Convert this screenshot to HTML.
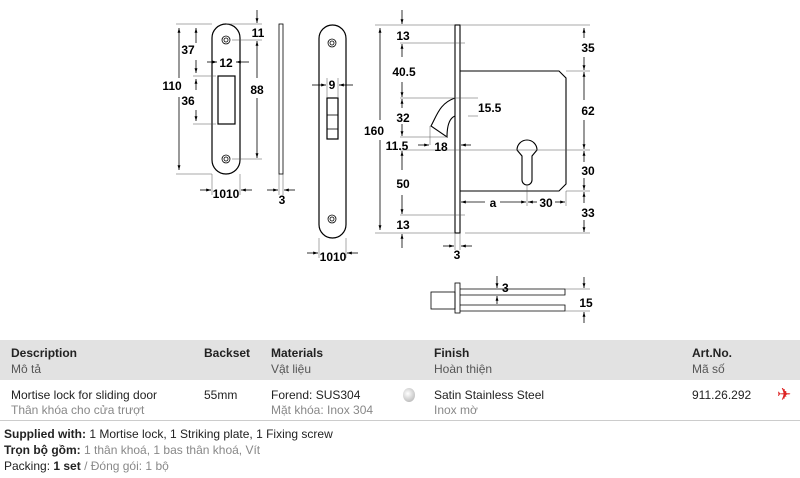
<!DOCTYPE html>
<html><head><meta charset="utf-8"><style>
body{margin:0;width:800px;height:478px;background:#fff;font-family:"Liberation Sans",sans-serif;overflow:hidden;position:relative}
svg{position:absolute;left:0;top:0}
.t{position:absolute;font-size:12px;color:#222;white-space:nowrap}
.g{color:#888}
.b{font-weight:bold}
</style></head><body>
<svg width="800" height="340" viewBox="0 0 800 340" font-family="Liberation Sans" font-weight="bold" font-size="12" fill="none" stroke="#000" stroke-width="0.8">
<defs><marker id="a" viewBox="0 0 10 10" refX="10" refY="5" markerWidth="6" markerHeight="6" orient="auto-start-reverse"><path d="M0,2L10,5L0,8z" fill="#000" stroke="none"/></marker></defs>
<!-- strike plate -->
<rect x="212" y="24" width="28" height="150" rx="14" stroke-width="1.2"/>
<circle cx="226" cy="40" r="4"/><circle cx="226" cy="40" r="2"/>
<circle cx="226" cy="159" r="4"/><circle cx="226" cy="159" r="2"/>
<rect x="218" y="76" width="17" height="48" stroke-width="1.2"/>
<g stroke-width="0.5" stroke="#555">
<line x1="176" y1="24" x2="212" y2="24"/><line x1="176" y1="174" x2="212" y2="174"/>
<line x1="193" y1="76" x2="216" y2="76"/><line x1="193" y1="124" x2="216" y2="124"/>
<line x1="226" y1="24" x2="262" y2="24"/><line x1="232" y1="40" x2="262" y2="40"/><line x1="232" y1="159" x2="262" y2="159"/>
<line x1="212" y1="174" x2="212" y2="195"/><line x1="240" y1="174" x2="240" y2="195"/>
<line x1="279" y1="174" x2="279" y2="195"/><line x1="283" y1="174" x2="283" y2="195"/>
</g>
<line x1="179" y1="28" x2="179" y2="78" marker-start="url(#a)"/><line x1="179" y1="97" x2="179" y2="170" marker-end="url(#a)"/>
<line x1="196" y1="28" x2="196" y2="43" marker-start="url(#a)"/><line x1="196" y1="60" x2="196" y2="73" marker-end="url(#a)"/>
<line x1="196" y1="79" x2="196" y2="90" marker-start="url(#a)"/><line x1="196" y1="110" x2="196" y2="121" marker-end="url(#a)"/>
<line x1="207" y1="62" x2="217" y2="62" marker-end="url(#a)"/><line x1="249" y1="62" x2="236" y2="62" marker-end="url(#a)"/>
<line x1="257" y1="10" x2="257" y2="23" marker-end="url(#a)"/><line x1="257" y1="41" x2="257" y2="78" marker-start="url(#a)"/><line x1="257" y1="98" x2="257" y2="158" marker-end="url(#a)"/>
<line x1="200" y1="190" x2="211" y2="190" marker-end="url(#a)"/><line x1="252" y1="190" x2="241" y2="190" marker-end="url(#a)"/>
<line x1="267" y1="190" x2="278" y2="190" marker-end="url(#a)"/><line x1="295" y1="190" x2="284" y2="190" marker-end="url(#a)"/>
<rect x="279" y="24" width="4" height="150"/>
<g fill="#000" stroke="none">
<text x="188" y="54" text-anchor="middle">37</text><text x="188" y="105" text-anchor="middle">36</text><text x="172" y="90" text-anchor="middle">110</text>
<text x="226" y="67" text-anchor="middle">12</text><text x="258" y="37" text-anchor="middle">11</text><text x="257" y="94" text-anchor="middle">88</text>
<text x="226" y="198" text-anchor="middle">1010</text><text x="282" y="204" text-anchor="middle">3</text>
</g>
<!-- forend -->
<rect x="319" y="25" width="27" height="213" rx="13.5" stroke-width="1.2"/>
<circle cx="332" cy="43" r="4"/><circle cx="332" cy="43" r="2"/>
<circle cx="332" cy="219" r="4"/><circle cx="332" cy="219" r="2"/>
<rect x="327" y="98" width="11" height="41" stroke-width="1.2"/>
<line x1="327" y1="115" x2="338" y2="115"/><line x1="327" y1="129" x2="338" y2="129"/>
<line x1="312" y1="85" x2="326" y2="85" marker-end="url(#a)"/><line x1="353" y1="85" x2="339" y2="85" marker-end="url(#a)"/>
<g stroke-width="0.5" stroke="#555"><line x1="327" y1="78" x2="327" y2="98"/><line x1="338" y1="78" x2="338" y2="98"/><line x1="319" y1="238" x2="319" y2="258"/><line x1="346" y1="238" x2="346" y2="258"/></g>
<line x1="307" y1="253" x2="318" y2="253" marker-end="url(#a)"/><line x1="358" y1="253" x2="347" y2="253" marker-end="url(#a)"/>
<g fill="#000" stroke="none"><text x="332" y="89" text-anchor="middle">9</text><text x="333" y="261" text-anchor="middle">1010</text></g>
<!-- lock side -->
<rect x="455" y="25" width="5" height="208" stroke-width="1.1"/>
<path d="M460,71H559L566,78V184L559,191H460" stroke-width="1.1"/>
<path d="M517,150a10,10 0 1 1 20,0l-5,6v24a5,5 0 0 1 -10,0v-24z" stroke-width="1.1"/>
<path d="M455,98C440,103 437,115 431,126L447,137C447,125 450,118 455,116" stroke-width="1.1"/>
<g stroke-width="0.5" stroke="#555">
<line x1="375" y1="25" x2="455" y2="25"/><line x1="375" y1="233" x2="455" y2="233"/>
<line x1="400" y1="43" x2="465" y2="43"/><line x1="400" y1="98" x2="478" y2="98"/><line x1="468" y1="116" x2="478" y2="116"/>
<line x1="400" y1="137" x2="447" y2="137"/><line x1="400" y1="150" x2="590" y2="150"/><line x1="400" y1="215" x2="465" y2="215"/>
<line x1="460" y1="25" x2="590" y2="25"/><line x1="566" y1="71" x2="590" y2="71"/><line x1="566" y1="191" x2="590" y2="191"/><line x1="465" y1="233" x2="590" y2="233"/>
<line x1="527" y1="185" x2="527" y2="206"/><line x1="566" y1="191" x2="566" y2="206"/><line x1="460" y1="233" x2="460" y2="250"/><line x1="455" y1="233" x2="455" y2="250"/>
<line x1="430" y1="126" x2="430" y2="145"/>
</g>
<line x1="380" y1="28" x2="380" y2="120" marker-start="url(#a)"/><line x1="380" y1="140" x2="380" y2="230" marker-end="url(#a)"/>
<line x1="402" y1="10" x2="402" y2="24" marker-end="url(#a)"/><line x1="402" y1="44" x2="402" y2="57" marker-start="url(#a)"/><line x1="402" y1="82" x2="402" y2="97" marker-end="url(#a)"/>
<line x1="402" y1="99" x2="402" y2="108" marker-start="url(#a)"/><line x1="402" y1="124" x2="402" y2="136" marker-end="url(#a)"/>
<line x1="402" y1="151" x2="402" y2="170" marker-start="url(#a)"/><line x1="402" y1="195" x2="402" y2="214" marker-end="url(#a)"/>
<line x1="402" y1="248" x2="402" y2="234" marker-end="url(#a)"/>
<line x1="418" y1="145" x2="429" y2="145" marker-end="url(#a)"/><line x1="471" y1="145" x2="461" y2="145" marker-end="url(#a)"/>
<line x1="584" y1="28" x2="584" y2="38" marker-start="url(#a)"/><line x1="584" y1="57" x2="584" y2="70" marker-end="url(#a)"/>
<line x1="584" y1="72" x2="584" y2="100" marker-start="url(#a)"/><line x1="584" y1="120" x2="584" y2="149" marker-end="url(#a)"/>
<line x1="584" y1="151" x2="584" y2="162" marker-start="url(#a)"/><line x1="584" y1="178" x2="584" y2="190" marker-end="url(#a)"/>
<line x1="584" y1="192" x2="584" y2="203" marker-start="url(#a)"/><line x1="584" y1="220" x2="584" y2="232" marker-end="url(#a)"/>
<line x1="461" y1="202" x2="485" y2="202" marker-start="url(#a)"/><line x1="500" y1="202" x2="526" y2="202" marker-end="url(#a)"/>
<line x1="528" y1="202" x2="537" y2="202" marker-start="url(#a)"/><line x1="555" y1="202" x2="565" y2="202" marker-end="url(#a)"/>
<line x1="443" y1="246" x2="454" y2="246" marker-end="url(#a)"/><line x1="472" y1="246" x2="461" y2="246" marker-end="url(#a)"/>
<g fill="#000" stroke="none">
<text x="374" y="135" text-anchor="middle">160</text>
<text x="403" y="40" text-anchor="middle">13</text><text x="404" y="76" text-anchor="middle">40.5</text><text x="403" y="122" text-anchor="middle">32</text>
<text x="403" y="188" text-anchor="middle">50</text><text x="403" y="229" text-anchor="middle">13</text>
<text x="478" y="112">15.5</text><text x="397" y="150" text-anchor="middle">11.5</text><text x="441" y="151" text-anchor="middle">18</text>
<text x="588" y="52" text-anchor="middle">35</text><text x="588" y="115" text-anchor="middle">62</text><text x="588" y="175" text-anchor="middle">30</text><text x="588" y="217" text-anchor="middle">33</text>
<text x="493" y="207" text-anchor="middle">a</text><text x="546" y="207" text-anchor="middle">30</text><text x="457" y="259" text-anchor="middle">3</text>
<text x="502" y="292">3</text><text x="586" y="307" text-anchor="middle">15</text>
</g>
<!-- bottom view -->
<rect x="431" y="292" width="24" height="17"/><rect x="455" y="283" width="5" height="30"/>
<path d="M460,289H565V295H460M460,305H565V311H460"/>
<g stroke-width="0.5" stroke="#555"><line x1="565" y1="289" x2="590" y2="289"/><line x1="565" y1="311" x2="590" y2="311"/></g>
<line x1="497" y1="276" x2="497" y2="288" marker-end="url(#a)"/><line x1="497" y1="304" x2="497" y2="296" marker-end="url(#a)"/>
<line x1="584" y1="277" x2="584" y2="288" marker-end="url(#a)"/><line x1="584" y1="323" x2="584" y2="312" marker-end="url(#a)"/>
</svg>
<div style="position:absolute;left:0;top:340px;width:800px;height:40px;background:#e2e2e2"></div>
<div style="position:absolute;left:0;top:420px;width:800px;height:1px;background:#ccc"></div>
<div class="t b" style="left:11px;top:346px">Description</div><div class="t" style="left:11px;top:362px;color:#555">Mô tả</div>
<div class="t b" style="left:204px;top:346px">Backset</div>
<div class="t b" style="left:271px;top:346px">Materials</div><div class="t" style="left:271px;top:362px;color:#555">Vật liệu</div>
<div class="t b" style="left:434px;top:346px">Finish</div><div class="t" style="left:434px;top:362px;color:#555">Hoàn thiện</div>
<div class="t b" style="left:692px;top:346px">Art.No.</div><div class="t" style="left:692px;top:362px;color:#555">Mã số</div>
<div class="t" style="left:11px;top:388px">Mortise lock for sliding door</div><div class="t g" style="left:11px;top:403px">Thân khóa cho cửa trượt</div>
<div class="t" style="left:204px;top:388px">55mm</div>
<div class="t" style="left:271px;top:388px">Forend: SUS304</div><div class="t g" style="left:271px;top:403px">Mặt khóa: Inox 304</div>
<div style="position:absolute;left:403px;top:388px;width:12px;height:14px;border-radius:50%;background:radial-gradient(circle at 40% 40%,#fff,#aaa)"></div>
<div class="t" style="left:434px;top:388px">Satin Stainless Steel</div><div class="t g" style="left:434px;top:403px">Inox mờ</div>
<div class="t" style="left:692px;top:388px">911.26.292</div>
<div class="t" style="left:777px;top:385px;color:#d22;font-size:17px">✈</div>
<div class="t" style="left:4px;top:427px"><b>Supplied with:</b> 1 Mortise lock, 1 Striking plate, 1 Fixing screw</div>
<div class="t" style="left:4px;top:443px"><b>Trọn bộ gồm:</b> <span class="g">1 thân khoá, 1 bas thân khoá, Vít</span></div>
<div class="t" style="left:4px;top:459px">Packing: <b>1 set</b> <span class="g">/ Đóng gói: 1 bộ</span></div>
</body></html>
